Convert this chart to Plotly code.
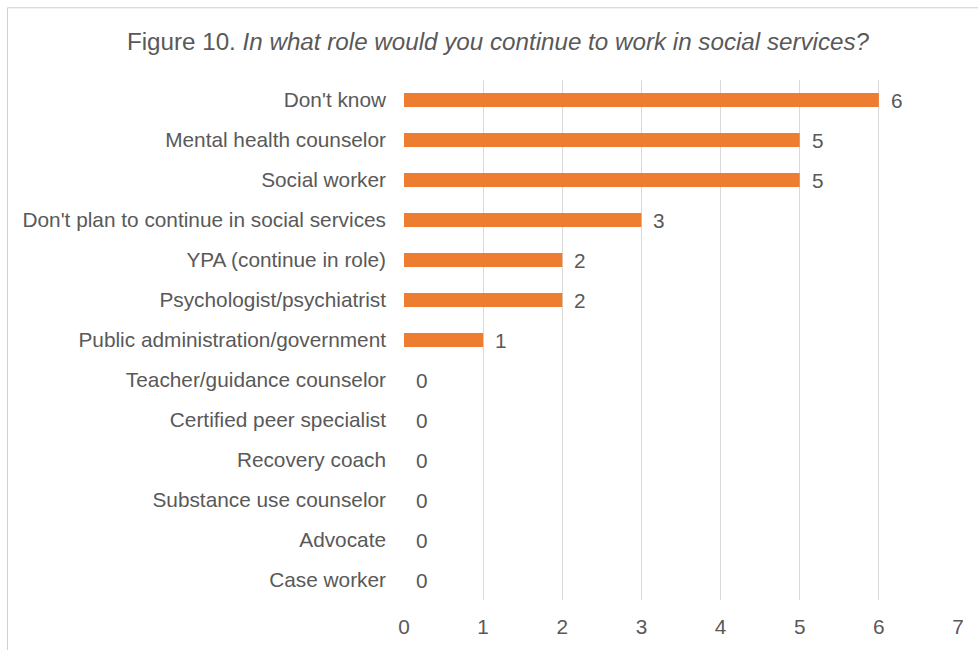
import plotly.graph_objects as go

# Survey responses, listed top to bottom
roles = [
    "Don't know",
    "Mental health counselor",
    "Social worker",
    "Don't plan to continue in social services",
    "YPA (continue in role)",
    "Psychologist/psychiatrist",
    "Public administration/government",
    "Teacher/guidance counselor",
    "Certified peer specialist",
    "Recovery coach",
    "Substance use counselor",
    "Advocate",
    "Case worker",
]
counts = [6, 5, 5, 3, 2, 2, 1, 0, 0, 0, 0, 0, 0]
x_ticks = [0, 1, 2, 3, 4, 5, 6, 7]

W, H = 978, 650
ML, MR, MT, MB = 404, 20, 80, 48
PW, PH = W - ML - MR, H - MT - MB

TEXT = "#595959"
FONT = "Liberation Sans, Arial, sans-serif"
FS = 20.8

fig = go.Figure(
    go.Bar(
        x=counts,
        y=roles,
        orientation="h",
        marker=dict(color="#ED7D31", line=dict(width=0)),
        hoverinfo="x+y",
    )
)

# value labels beside each bar
for r, v in zip(roles, counts):
    fig.add_annotation(
        x=v, y=r, text=str(v), showarrow=False,
        xanchor="left", yanchor="middle", xshift=10,
        font=dict(family=FONT, size=FS, color=TEXT),
    )

# light frame around the chart area
def px_x(p):
    return (p - ML) / PW

def px_y(p):
    return 1 - (p - MT) / PH

fig.add_shape(
    type="rect", xref="paper", yref="paper",
    x0=px_x(7.5), x1=px_x(1000), y0=px_y(700), y1=px_y(7.5),
    line=dict(color="#D0D0D0", width=1), fillcolor="rgba(0,0,0,0)",
    layer="below",
)

fig.update_layout(
    width=W, height=H,
    margin=dict(l=ML, r=MR, t=MT, b=MB),
    paper_bgcolor="white", plot_bgcolor="white",
    bargap=0.65,
    showlegend=False,
    font=dict(family=FONT, size=FS, color=TEXT),
    title=dict(
        text="Figure 10. <i>In what role would you continue to work in social services?</i>",
        x=498 / W, xanchor="center", xref="container",
        y=1 - 42 / H, yanchor="middle", yref="container",
        font=dict(family=FONT, size=24.2, color=TEXT),
    ),
    xaxis=dict(
        range=[0, 7], tickvals=x_ticks, ticktext=[str(t) for t in x_ticks],
        showgrid=True, gridcolor="#D9D9D9", gridwidth=1,
        zeroline=False, showline=False,
        ticks="", ticklabelstandoff=12,
        tickfont=dict(family=FONT, size=FS, color=TEXT),
    ),
    yaxis=dict(
        categoryorder="array", categoryarray=roles, autorange="reversed",
        showgrid=False, zeroline=False, showline=False,
        ticks="", ticklabelstandoff=17,
        tickfont=dict(family=FONT, size=FS, color=TEXT),
    ),
)

fig.write_html("out.html")
